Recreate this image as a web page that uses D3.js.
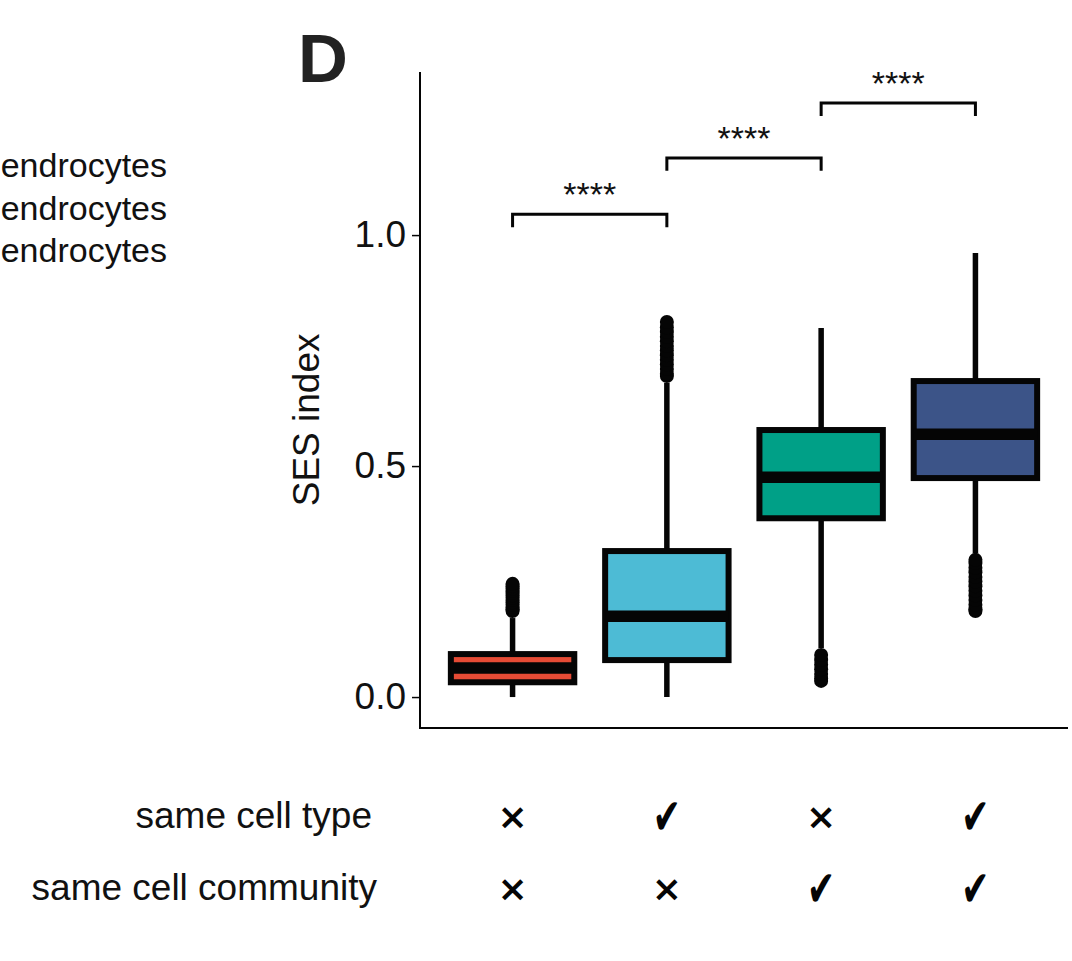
<!DOCTYPE html>
<html>
<head>
<meta charset="utf-8">
<script src="https://cdn.jsdelivr.net/npm/d3@7"></script>
<style>
  body { margin: 0; background: #fff; }
  svg { display: block; font-family: "Liberation Sans", Arial, sans-serif; }
</style>
</head>
<body>
<div id="chart"></div>
<script>

// groups along the x axis
var groups = ["g1", "g2", "g3", "g4"];
var colors = ["#E64B35", "#4DBBD5", "#00A087", "#3C5488"];

// box statistics
var q1 = [0.032, 0.080, 0.387, 0.474];
var median = [0.063, 0.175, 0.476, 0.569];
var q3 = [0.093, 0.316, 0.578, 0.684];
var whiskerLo = [0.0, 0.0, 0.106, 0.312];
var whiskerHi = [0.171, 0.68, 0.799, 0.961];

// outliers (dense runs of points)
var outliers1 = [0.186, 0.19, 0.195, 0.2, 0.205, 0.21, 0.215, 0.22, 0.225, 0.23, 0.235, 0.24, 0.245];
var outliers2 = [0.695, 0.70, 0.71, 0.72, 0.73, 0.74, 0.75, 0.76, 0.77, 0.78, 0.79, 0.80, 0.812];
var outliers3 = [0.035, 0.04, 0.05, 0.06, 0.07, 0.08, 0.091];
var outliers4 = [0.186, 0.19, 0.2, 0.21, 0.22, 0.23, 0.24, 0.25, 0.26, 0.27, 0.28, 0.29, 0.297];

// y axis ticks
var yTicks = [0.0, 0.5, 1.0];

// significance brackets
var compFrom = [0, 1, 2];
var compTo = [1, 2, 3];
var compY = [1.045, 1.167, 1.286];
var compLabel = ["****", "****", "****"];

// table below the plot
var rowLabels = ["same cell type", "same cell community"];
var sameType = [false, true, false, true];
var sameCommunity = [false, false, true, true];

// legend text, cropped at the left edge in the figure
var legendLabels = ["endrocytes", "endrocytes", "endrocytes"];

var width = 1072, height = 961;
var ink = "#050505";

var svg = d3.select("#chart")
    .append("svg")
    .attr("width", width)
    .attr("height", height);

var x = d3.scaleBand()
    .domain(groups)
    .range([420, 1068])
    .padding(0.2);

var y = d3.scaleLinear()
    .domain([-0.067, 1.353])
    .range([728, 72]);

// panel letter
svg.append("text")
    .attr("x", 298)
    .attr("y", 82)
    .style("font-size", "69px")
    .style("font-weight", "bold")
    .style("fill", "#222")
    .text("D");

svg.selectAll(".legend")
    .data(legendLabels)
    .enter().append("text")
    .attr("class", "legend")
    .attr("x", 167)
    .attr("y", function(d, i) { return 177 + i * 42.5; })
    .attr("text-anchor", "end")
    .style("font-size", "34px")
    .style("fill", "#111")
    .text(function(d) { return d; });

// y axis
var yAxis = d3.axisLeft(y)
    .tickValues(yTicks)
    .tickFormat(d3.format(".1f"))
    .tickSize(8)
    .tickPadding(6);

var gy = svg.append("g")
    .attr("transform", "translate(420,0)")
    .call(yAxis);
gy.select(".domain").remove();
gy.selectAll(".tick line").attr("stroke", ink).attr("stroke-width", 1.5);
gy.selectAll(".tick text")
    .style("font-size", "37px")
    .style("font-family", "'Liberation Sans', Arial, sans-serif")
    .attr("fill", "#111");

svg.append("line")
    .attr("x1", 420).attr("x2", 420)
    .attr("y1", y.range()[1]).attr("y2", y.range()[0] + 1)
    .attr("stroke", ink).attr("stroke-width", 2);

svg.append("line")
    .attr("x1", 419).attr("x2", 1068)
    .attr("y1", y.range()[0]).attr("y2", y.range()[0])
    .attr("stroke", ink).attr("stroke-width", 2);

svg.append("text")
    .attr("transform", "translate(319," + y(0.6) + ") rotate(-90)")
    .attr("text-anchor", "middle")
    .style("font-size", "37px")
    .style("fill", "#111")
    .text("SES index");

// boxes
var outliers = [outliers1, outliers2, outliers3, outliers4];
var bw = x.bandwidth();

groups.forEach(function(g, i) {
    var cx = x(g) + bw / 2;
    var box = svg.append("g");

    box.append("line")
        .attr("x1", cx).attr("x2", cx)
        .attr("y1", y(whiskerHi[i])).attr("y2", y(whiskerLo[i]))
        .attr("stroke", ink).attr("stroke-width", 5.5);

    box.selectAll("circle")
        .data(outliers[i])
        .enter().append("circle")
        .attr("cx", cx)
        .attr("cy", function(d) { return y(d); })
        .attr("r", 7)
        .attr("fill", ink);

    box.append("rect")
        .attr("x", x(g))
        .attr("width", bw)
        .attr("y", y(q3[i]))
        .attr("height", y(q1[i]) - y(q3[i]))
        .attr("fill", colors[i])
        .attr("stroke", ink)
        .attr("stroke-width", 6);

    box.append("line")
        .attr("x1", x(g)).attr("x2", x(g) + bw)
        .attr("y1", y(median[i])).attr("y2", y(median[i]))
        .attr("stroke", ink).attr("stroke-width", 11.5);
});

// significance brackets
var tick = 0.028;
compFrom.forEach(function(f, i) {
    var xa = x(groups[f]) + bw / 2;
    var xb = x(groups[compTo[i]]) + bw / 2;
    var yb = y(compY[i]);
    svg.append("path")
        .attr("d", "M" + xa + "," + y(compY[i] - tick) + "V" + yb + "H" + xb + "V" + y(compY[i] - tick))
        .attr("fill", "none")
        .attr("stroke", ink)
        .attr("stroke-width", 3);
    svg.append("text")
        .attr("x", (xa + xb) / 2)
        .attr("y", yb - 8)
        .attr("text-anchor", "middle")
        .style("font-size", "34px")
        .style("fill", "#111")
        .text(compLabel[i]);
});

// table of flags
var rowY = [816, 888];
var rowLabelX = [372, 377];
var flags = [sameType, sameCommunity];

rowLabels.forEach(function(lab, r) {
    svg.append("text")
        .attr("x", rowLabelX[r])
        .attr("y", rowY[r] + 12)
        .attr("text-anchor", "end")
        .style("font-size", "37px")
        .style("fill", "#111")
        .text(lab);

    svg.selectAll(".flag" + r)
        .data(flags[r])
        .enter().append("text")
        .attr("class", "flag" + r)
        .attr("transform", function(d, i) {
            var cx = x(groups[i]) + bw / 2;
            return d ? "translate(" + cx + "," + rowY[r] + ") scale(0.8,1.2)"
                     : "translate(" + cx + "," + rowY[r] + ")";
        })
        .attr("dy", "0.35em")
        .attr("text-anchor", "middle")
        .style("font-family", "'DejaVu Sans', sans-serif")
        .style("font-weight", "bold")
        .style("font-size", function(d) { return d ? "42px" : "36px"; })
        .style("fill", ink)
        .text(function(d) { return d ? "\u2714" : "\u00D7"; });
});

</script>
</body>
</html>
